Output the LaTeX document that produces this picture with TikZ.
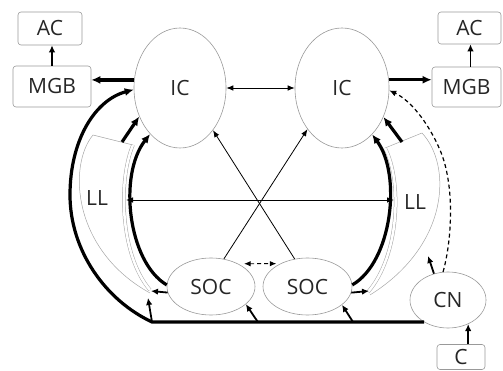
\documentclass[tikz,border=0pt]{standalone}
\usepackage{fontspec}
\setmainfont{Open Sans}
\usetikzlibrary{arrows.meta,shapes.geometric}
\begin{document}
\begin{tikzpicture}[x=1pt,y=-1pt,
  txt/.style={font=\fontsize{21}{21}\selectfont, text=black!85},
  shp/.style={draw=gray!80, line width=0.6pt},
  box/.style={shp, txt, rounded corners=3pt, inner sep=0pt},
  ell/.style={shp, txt, ellipse, inner sep=0pt},
  band/.style={draw=gray!70, line width=0.5pt},
  bandd/.style={band, double=white, double distance=2.5pt},
  thk/.style={line width=3.2pt, -{Latex[length=9pt,width=8pt]}},
  med/.style={line width=1.8pt, -{Latex[length=7pt,width=6.5pt]}},
  thn/.style={line width=0.8pt, -{Latex[length=7pt,width=5.5pt]}},
  thnb/.style={line width=0.8pt, {Latex[length=7pt,width=5.5pt]}-{Latex[length=7pt,width=5.5pt]}},
  dshb/.style={line width=0.9pt, dash pattern=on 4pt off 3pt, {Latex[length=6.5pt,width=5.5pt]}-{Latex[length=6.5pt,width=5.5pt]}},
  dsh/.style={line width=1.2pt, dash pattern=on 4pt off 3pt, -{Latex[length=7pt,width=6pt]}}
]
\useasboundingbox (0,0) rectangle (503,371);

% nodes
\node[box, minimum width=64pt, minimum height=33pt] (ACl) at (50,28.5) {AC};
\node[box, minimum width=78pt, minimum height=41pt] (MGBl) at (52,86.5) {MGB};
\node[box, minimum width=63pt, minimum height=32pt] (ACr) at (469.5,28) {AC};
\node[box, minimum width=69pt, minimum height=40pt] (MGBr) at (466.5,87) {MGB};
\node[box, minimum width=48pt, minimum height=25pt] (C) at (461,357) {C};
\node[ell, minimum width=92pt, minimum height=120pt] (ICl) at (180,88) {IC};
\node[ell, minimum width=94pt, minimum height=120pt] (ICr) at (342,88) {IC};
\node[ell, minimum width=88pt, minimum height=57pt] (SOCl) at (211,286.5) {SOC};
\node[ell, minimum width=89pt, minimum height=57pt] (SOCr) at (307.5,286.5) {SOC};
\node[ell, minimum width=76pt, minimum height=56pt] (CN) at (448,300) {CN};
\node[txt] (LLl) at (97,198) {LL};
\node[txt] (LLr) at (415,202) {LL};

% coordinates
\coordinate (corner) at (152,322);
\coordinate (LLlbot) at (151,291);
\coordinate (LLrbot) at (369,291);
\coordinate (LLltop) at (122,142);
\coordinate (LLrtop) at (402,142);
\coordinate (LLlin) at (126,200);
\coordinate (LLrin) at (394,200);
\coordinate (LLlfoot) at (148,298);
\coordinate (LLrside) at (428,256);
\coordinate (s1) at ([xshift=12pt]SOCl.-27);
\coordinate (s2) at ([xshift=11pt]SOCr.-28);

% LL bands
\draw[band] (93,135) -- (133,145);
\draw[band] (93,135) .. controls (68,165) and (72,250) .. (150,293);
\draw[bandd] (133,145) .. controls (118,180) and (120,255) .. (150,290);
\draw[band] (385,148) -- (422,133);
\draw[band] (422,133) .. controls (452,165) and (450,245) .. (370,295);
\draw[bandd] (385,148) .. controls (402,180) and (400,255) .. (368,292);

% connectors
\draw[thk] (ICl.170) -- (ICl.170 -| MGBl.east);
\draw[thk] (ICr.10) -- (ICr.10 -| MGBr.west);
\draw[med] (MGBl.north) -- (MGBl.north |- ACl.south);
\draw[med] ([xshift=4pt]MGBr.north) -- ([xshift=4pt]MGBr.north |- ACr.south);
\draw[med] (C.north -| CN.-50) -- (CN.-50);

\draw[thnb] (ICl.east) -- (ICr.west);
\draw[thn] (SOCl.65) -- (ICr.230);
\draw[thn] (SOCr.115) -- (ICl.-52);
\draw[thnb] (LLlin) -- (LLrin);
\draw[dshb] ([xshift=6pt]SOCl.40) -- ([xshift=-4pt]SOCr.140);

\draw[thk] (CN.223 |- corner) -- (corner) .. controls (105,300) and (70,250) .. (70,195) .. controls (70,140) and (95,100) .. (ICl.182);
\draw[thk] (SOCl.178) .. controls (128,262) and (118,175) .. (ICl.237);
\draw[thk] (SOCr.2) .. controls (392,262) and (402,175) .. (ICr.-57);
\draw[thk] (LLltop) -- (ICl.215);
\draw[thk] (LLrtop) -- (ICr.-35);
\draw[med] (SOCl.188) -- (LLlbot);
\draw[med] (SOCr.-8) -- (LLrbot);
\draw[med] (corner) -- (LLlfoot);
\draw[med] (s1 |- corner) -- (SOCl.-27);
\draw[med] (s2 |- corner) -- (SOCr.-28);
\draw[med] (CN.118) -- (LLrside);
\draw[dsh] (CN.100) .. controls (452,240) and (455,185) .. (440,150) .. controls (428,122) and (410,100) .. (ICr.-3);
\end{tikzpicture}
\end{document}
